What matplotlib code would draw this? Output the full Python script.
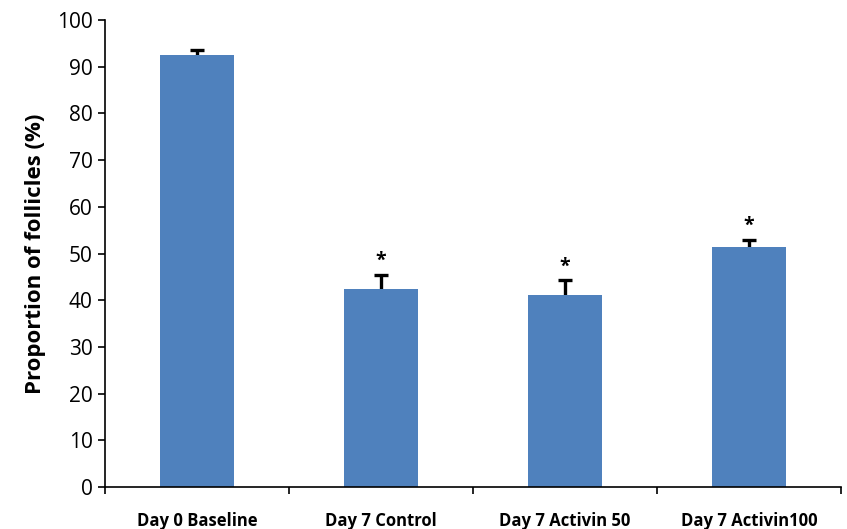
import matplotlib
matplotlib.use("Agg")
import matplotlib.pyplot as plt
import numpy as np

categories = ["Day 0 Baseline", "Day 7 Control", "Day 7 Activin 50", "Day 7 Activin100"]
values = [92.6, 42.5, 41.1, 51.3]
errors = [0.9, 3.0, 3.2, 1.6]
stars = ["", "*", "*", "*"]

plt.rcParams['font.family'] = ['Open Sans', 'DejaVu Sans']
fig = plt.figure(figsize=(8.47, 5.29), dpi=100)
ax = fig.add_axes([0.124, 0.0794, 0.869, 0.8826])
x = np.arange(len(categories))
ax.bar(x, values, width=0.4, color='#4f81bd', zorder=2)
ax.errorbar(x, values, yerr=errors, fmt='none',
            ecolor='black', elinewidth=2.4, capsize=5, capthick=2.4, zorder=1)
for xi, v, e, s in zip(x, values, errors, stars):
    if s:
        ax.text(xi, v + e + 0.8, s, ha='center', va='bottom', fontsize=14, fontweight='bold')
ax.set_xlim(-0.5, len(categories) - 0.5)
ax.set_ylim(0, 100)
ax.set_yticks(np.arange(0, 101, 10))
ax.tick_params(axis='y', labelsize=15, length=5, width=1.2, direction='out', pad=4)
ax.set_xticks(x)
ax.set_xticklabels(categories, fontsize=12, fontweight='bold')
ax.tick_params(axis='x', length=0, pad=18)
ax.set_xticks(np.arange(-0.5, len(categories), 1.0), minor=True)
ax.tick_params(axis='x', which='minor', length=5, width=1.2, direction='out')
for sp in ['top', 'right']:
    ax.spines[sp].set_visible(False)
for sp in ['left', 'bottom']:
    ax.spines[sp].set_linewidth(1.2)
ax.set_ylabel("Proportion of follicles (%)", fontsize=16, fontweight='bold', labelpad=8)
fig.savefig("out.png", dpi=100)
